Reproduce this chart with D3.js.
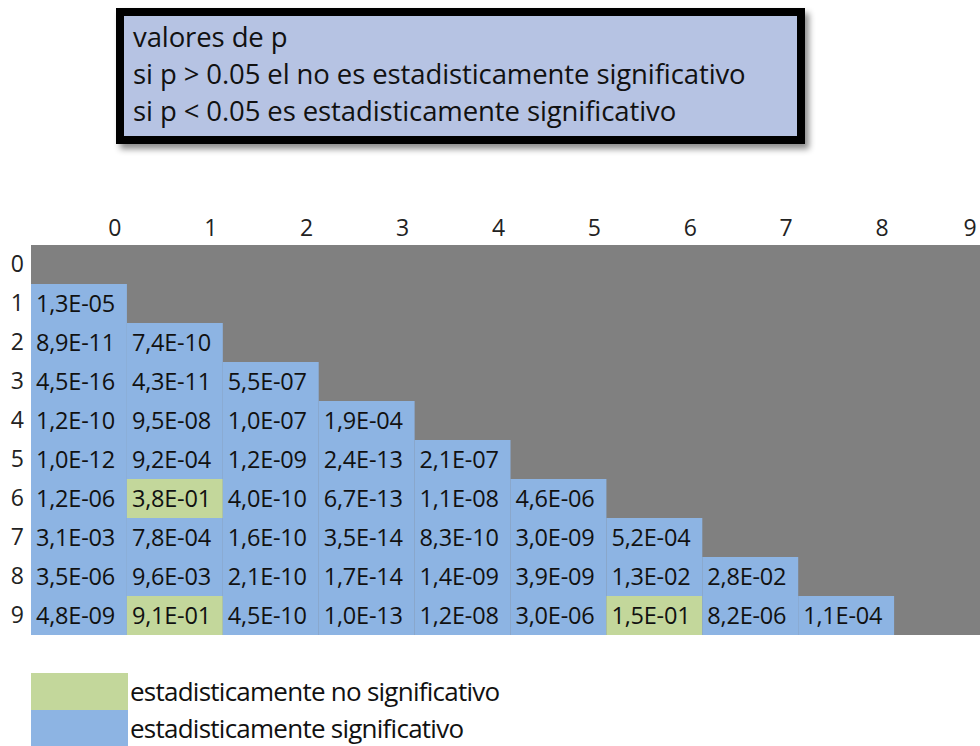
<!DOCTYPE html>
<html lang="es">
<head>
  <meta charset="UTF-8">
  <script src="https://d3js.org/d3.v7.min.js"></script>
  <title>valores de p</title>
  <style>
    body { margin: 0; background: #fff; }
    svg { display: block; font-family: "Open Sans", sans-serif; }
  </style>
</head>
<body>
  <svg width="980" height="746"></svg>
  <script>
    // etiquetas de filas y columnas
    const labels = ["0", "1", "2", "3", "4", "5", "6", "7", "8", "9"];

    // valores de p (triangulo inferior), fila i tiene i valores
    const row1 = ["1,3E-05"];
    const row2 = ["8,9E-11", "7,4E-10"];
    const row3 = ["4,5E-16", "4,3E-11", "5,5E-07"];
    const row4 = ["1,2E-10", "9,5E-08", "1,0E-07", "1,9E-04"];
    const row5 = ["1,0E-12", "9,2E-04", "1,2E-09", "2,4E-13", "2,1E-07"];
    const row6 = ["1,2E-06", "3,8E-01", "4,0E-10", "6,7E-13", "1,1E-08", "4,6E-06"];
    const row7 = ["3,1E-03", "7,8E-04", "1,6E-10", "3,5E-14", "8,3E-10", "3,0E-09", "5,2E-04"];
    const row8 = ["3,5E-06", "9,6E-03", "2,1E-10", "1,7E-14", "1,4E-09", "3,9E-09", "1,3E-02", "2,8E-02"];
    const row9 = ["4,8E-09", "9,1E-01", "4,5E-10", "1,0E-13", "1,2E-08", "3,0E-06", "1,5E-01", "8,2E-06", "1,1E-04"];
    const rows = [[], row1, row2, row3, row4, row5, row6, row7, row8, row9];

    const titleLines = [
      "valores de p",
      "si p > 0.05 el no es estadisticamente significativo",
      "si p < 0.05 es estadisticamente significativo"
    ];
    const legendItems = ["estadisticamente no significativo", "estadisticamente significativo"];

    const alpha = 0.05;
    const cGrey = "#808080", cBlue = "#8db4e3", cGreen = "#c3d79b";

    const svg = d3.select("svg");

    // recuadro del titulo con sombra
    const defs = svg.append("defs");
    const f = defs.append("filter").attr("id", "sombra")
      .attr("x", "-5%").attr("y", "-10%").attr("width", "115%").attr("height", "130%");
    f.append("feDropShadow").attr("dx", 4).attr("dy", 5).attr("stdDeviation", 3)
      .attr("flood-color", "#000").attr("flood-opacity", 0.45);

    svg.append("rect")
      .attr("x", 120).attr("y", 12).attr("width", 681).attr("height", 128)
      .attr("fill", "#b6c3e3").attr("stroke", "#000").attr("stroke-width", 8)
      .attr("filter", "url(#sombra)");

    svg.append("g").selectAll("text")
      .data(titleLines)
      .join("text")
      .attr("x", 133)
      .attr("y", (d, i) => 47 + i * 37)
      .attr("font-size", 27.5)
      .attr("letter-spacing", -0.1)
      .attr("fill", "#111")
      .text(d => d);

    // matriz
    const x = d3.scaleBand().domain(labels).range([31, 990]);
    const y = d3.scaleBand().domain(labels).range([245, 635]);

    const g = svg.append("g");
    g.append("rect")
      .attr("x", 31).attr("y", 245)
      .attr("width", 980 - 31).attr("height", y.range()[1] - 245)
      .attr("fill", cGrey);

    const cells = [];
    rows.forEach((r, i) => r.forEach((v, j) => {
      cells.push({ fila: labels[i], col: labels[j], txt: v, p: +v.replace(",", ".") });
    }));

    g.selectAll("rect.celda")
      .data(cells)
      .join("rect")
      .attr("class", "celda")
      .attr("x", d => x(d.col))
      .attr("y", d => y(d.fila))
      .attr("width", x.bandwidth())
      .attr("height", y.bandwidth())
      .attr("fill", d => d.p > alpha ? cGreen : cBlue);

    g.selectAll("text.valor")
      .data(cells)
      .join("text")
      .attr("class", "valor")
      .attr("x", d => x(d.col) + 5)
      .attr("y", d => y(d.fila) + y.bandwidth() / 2)
      .attr("dy", "0.36em")
      .attr("font-size", 23.5)
      .attr("letter-spacing", -0.2)
      .attr("fill", "#111")
      .text(d => d.txt);

    // encabezados
    const xAxis = d3.axisTop(x).tickSize(0).tickPadding(0);
    const gx = svg.append("g").attr("transform", "translate(0,236)").call(xAxis);
    gx.select(".domain").remove();
    gx.selectAll("text")
      .attr("x", d => d === "9" ? x.bandwidth() / 2 - 20 : x.bandwidth() / 2 - 12)
      .attr("font-size", 23).attr("font-family", "'Open Sans', sans-serif").attr("fill", "#222");

    const yAxis = d3.axisLeft(y).tickSize(0).tickPadding(0);
    const gy = svg.append("g").attr("transform", "translate(24,0)").call(yAxis);
    gy.select(".domain").remove();
    gy.selectAll("text")
      .attr("font-size", 23).attr("font-family", "'Open Sans', sans-serif").attr("fill", "#222");

    // leyenda
    const leg = svg.append("g").selectAll("g")
      .data(legendItems)
      .join("g")
      .attr("transform", (d, i) => `translate(31,${673 + i * 37})`);
    leg.append("rect")
      .attr("width", 97).attr("height", 37)
      .attr("fill", (d, i) => i === 0 ? cGreen : cBlue);
    leg.append("text")
      .attr("x", 99).attr("y", 18.5).attr("dy", "0.36em")
      .attr("font-size", 26).attr("letter-spacing", -0.75).attr("fill", "#111")
      .text(d => d);
  </script>
</body>
</html>
